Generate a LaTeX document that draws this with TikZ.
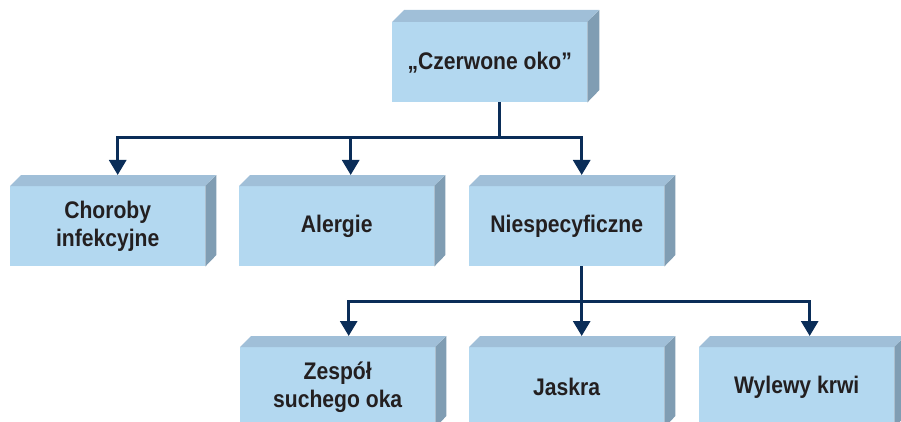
\documentclass[tikz,border=0pt]{standalone}
\usepackage{fontspec}
\setmainfont{Liberation Sans}[FakeStretch=0.88]
\usetikzlibrary{arrows.meta,calc}
\definecolor{frontc}{RGB}{179,216,240}
\definecolor{topc}{RGB}{160,191,216}
\definecolor{sidec}{RGB}{128,157,179}
\definecolor{arrc}{RGB}{10,45,88}
\definecolor{txt}{RGB}{35,31,32}
\tikzset{
  front/.style={fill=frontc, minimum width=195pt, minimum height=80pt, inner sep=0pt,
    anchor=north west, align=center, text=txt,
    font=\fontsize{24}{28.5}\selectfont\bfseries},
  conn/.style={draw=arrc, line width=3pt},
  arr/.style={conn, -{Triangle[width=17pt,length=15pt]}},
}
\newcommand\mybox[5]{%
  \node[front] (#1) at (#2,#3) {#5};
  \fill[topc] (#1.north west) -- ++(#4,-#4) -- ++(195,0) -- (#1.north east) -- cycle;
  \fill[sidec] (#1.north east) -- ++(#4,-#4) -- ++(0,80) -- (#1.south east) -- cycle;
}
\begin{document}
\begin{tikzpicture}[x=1pt,y=-1pt]
\useasboundingbox (0,0) rectangle (901,422);
\clip (0,0) rectangle (901,422);
\mybox{top}{392}{22}{12}{„Czerwone oko”}
\mybox{chor}{10}{186}{11}{Choroby\\infekcyjne}
\mybox{aler}{239}{186}{11}{Alergie}
\mybox{nies}{469}{186}{11}{Niespecyficzne}
\mybox{zesp}{240}{347}{11}{Zespół\\suchego oka}
\mybox{jask}{469}{347}{11}{Jaskra}
\mybox{wyl}{699}{347}{11}{Wylewy krwi}
% level 1 -> 2
\coordinate (j1) at ($(top.south)+(10,35)$);
\coordinate (t1) at ($(chor.north)+(10,-11)$);
\coordinate (t2) at ($(aler.north)+(14,-11)$);
\coordinate (t3) at ($(nies.north)+(15,-11)$);
\draw[conn] (top.south -| j1) -- (j1);
\draw[arr] (j1 -| t1) -- (t1);
\draw[arr] (j1 -| t2) -- (t2);
\draw[arr] (j1 -| t3) -- (t3);
\draw[conn] ([xshift=-1.5pt]j1 -| t1) -- ([xshift=1.5pt]j1 -| t3);
% level 2 -> 3
\coordinate (j2) at ($(nies.south)+(15,35)$);
\coordinate (u1) at ($(zesp.north)+(11,-11)$);
\coordinate (u2) at ($(jask.north)+(15,-11)$);
\coordinate (u3) at ($(wyl.north)+(13,-11)$);
\draw[conn] (nies.south -| j2) -- (j2);
\draw[arr] (j2 -| u1) -- (u1);
\draw[arr] (j2 -| u2) -- (u2);
\draw[arr] (j2 -| u3) -- (u3);
\draw[conn] ([xshift=-1.5pt]j2 -| u1) -- ([xshift=1.5pt]j2 -| u3);
\end{tikzpicture}
\end{document}
